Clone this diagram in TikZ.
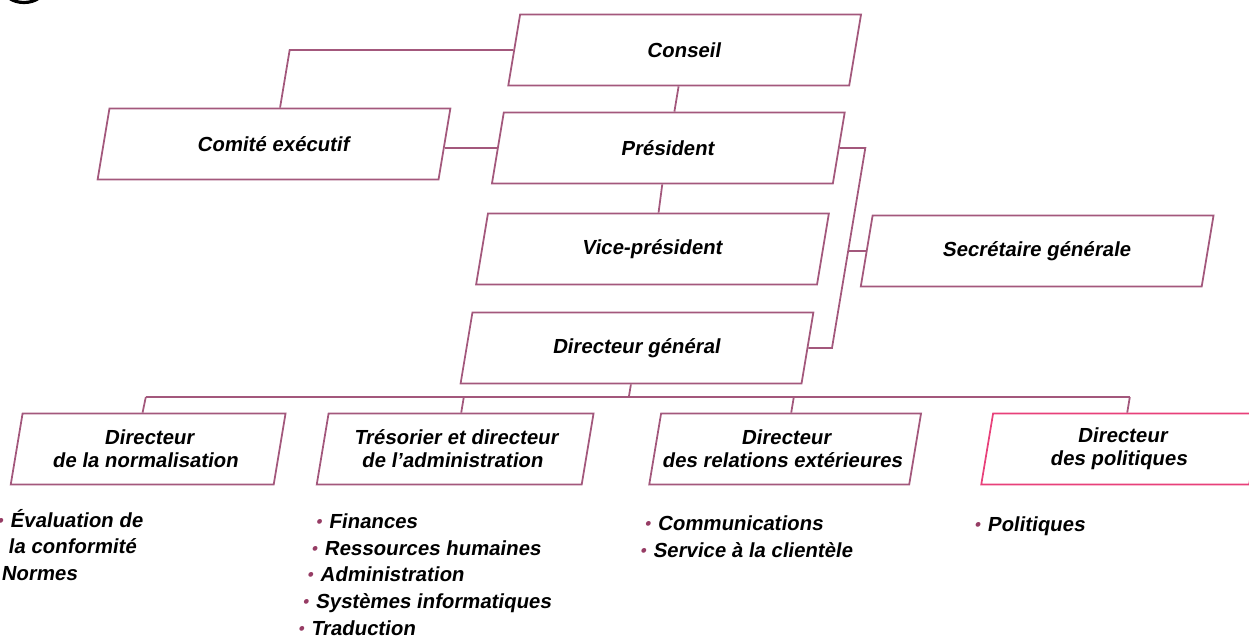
\documentclass[tikz,border=0pt]{standalone}
\usepackage{fontspec}
\setmainfont{Liberation Sans}
\usepackage{xcolor}
\usepackage{tikz}
\usetikzlibrary{calc}
\definecolor{linec}{RGB}{163,88,124}
\definecolor{polc}{RGB}{232,64,122}
\definecolor{bulc}{RGB}{150,60,100}
\newcommand{\bul}{\makebox[7.6pt][l]{\raisebox{1.8pt}{\textcolor{bulc}{\fontsize{6}{6}\selectfont$\bullet$}}}}

\begin{document}
\begin{tikzpicture}[x=0.02cm, y=-0.02cm,
% common options for the boxes:
box/.style = {draw=linec, line width=1pt, align=center, inner sep=0,
            minimum width=6.82cm, minimum height=1.42cm,
            font=\fontsize{11.6}{13.2}\selectfont\bfseries},
sbox/.style = {box, minimum width=5.3cm},
% common options for the list lines:
item/.style = {anchor=base west, inner sep=0, font=\fontsize{11.6}{13.2}\selectfont\bfseries},
wire/.style = {draw=linec, line width=1pt}]
\useasboundingbox (0,0) rectangle (1249,636);
\draw[line width=1.8pt] (9,-2) .. controls (17,4) and (31,4) .. (39,-2);
\begin{scope}[xslant=0.1667, transform shape]
\node[box] (conseil) at (693,50) {Conseil};
\node[box] (pres) at (693,148) {Président};
\node[box] (comite) at (298,144) {Comité exécutif};
\node[box] (vp) at (694,249) {Vice-président};
\node[box] (dg) at (695,348) {Directeur général};
\node[box] (sec) at (1079,251) {Secrétaire générale};
\node[sbox, minimum width=5.26cm] (norm) at (223,449) {Directeur\\de la normalisation};
\node[sbox] (tres) at (530,449) {Trésorier et directeur\\de l'administration};
\node[sbox, minimum width=5.2cm] (rel) at (860,449) {Directeur\\des relations extérieures};
\node[sbox, draw=polc, minimum width=5.36cm] (pol) at (1196,449) {Directeur\\des politiques};
% bends of the connectors
\coordinate (cb) at (298,50);
\coordinate (rt) at (890,148);
\coordinate (rm) at (890,251);
\coordinate (rb) at (890,348);
\coordinate (bd) at (695,397);
\coordinate (b1) at (212,397);
\coordinate (b2) at (530,397);
\coordinate (b3) at (860,397);
\coordinate (b4) at (1196,397);
\draw[wire] (conseil.west) -- (cb) -- (comite.north);
\draw[wire] (comite.east |- pres.west) -- (pres.west);
\draw[wire] (conseil.south) -- (pres.north);
\draw[wire] (pres.south) -- (vp.north);
\draw[wire] (pres.east) -- (rt) -- (rb) -- (dg.east);
\draw[wire] (rm) -- (sec.west);
\draw[wire] (dg.south) -- (bd);
\draw[wire] (b1) -- (b4);
\draw[wire] (b1) -- ($(norm.north west)!0.456!(norm.north east)$);
\draw[wire] (b2) -- (tres.north);
\draw[wire] (b3) -- (rel.north);
\draw[wire] (b4) -- (pol.north);
% lists under the directors
\node[item] (n1) at (84,527) {\bul Évaluation de};
\node[item] (n2) at (84,553) {\hspace*{9pt}la conformité};
\node[item] (n3) at (84,580) {\bul Normes};
\node[item] (t1) at (403,528) {\bul Finances};
\node[item] (t2) at (403,555) {\bul Ressources humaines};
\node[item] (t3) at (403,581) {\bul Administration};
\node[item] (t4) at (403,608) {\bul Systèmes informatiques};
\node[item] (t5) at (403,635) {\bul Traduction};
\node[item] (r1) at (732,530) {\bul Communications};
\node[item] (r2) at (732,557) {\bul Service à la clientèle};
\node[item] (p1) at (1062,531) {\bul Politiques};
\end{scope}
\end{tikzpicture}
\end{document}
